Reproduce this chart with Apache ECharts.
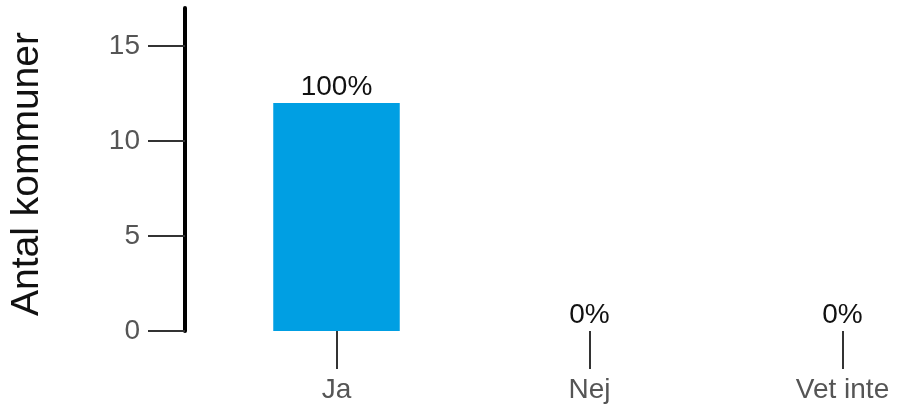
<!DOCTYPE html>
<html><head><meta charset="utf-8">
<script src="https://cdn.jsdelivr.net/npm/echarts@6/dist/echarts.min.js"></script>
<style>html,body{margin:0;padding:0;background:#fff;overflow:hidden;width:899px;height:407px}#c{width:969px;height:407px}</style>
</head><body><div id="c"></div>
<script>
const categories = ['Ja', 'Nej', 'Vet inte'];
const counts = [12, 0, 0];
const percentLabels = ['100%', '0%', '0%'];
const yTicks = [0, 5, 10, 15];
const yMax = 17;

const chart = echarts.init(document.getElementById('c'));
const F = 'Liberation Sans, Arial, sans-serif';
chart.setOption({
  animation: false,
  grid: { left: 210, right: 0, top: 8, bottom: 76 },
  xAxis: {
    type: 'category',
    data: categories,
    axisLine: { show: false },
    axisTick: { show: true, alignWithLabel: true, length: 38, lineStyle: { color: '#333', width: 2 } },
    axisLabel: { margin: 45, fontSize: 28, color: '#555', fontFamily: F },
    splitLine: { show: false }
  },
  yAxis: {
    type: 'value',
    min: 0, max: yMax,
    offset: 25,
    name: 'Antal kommuner',
    nameLocation: 'middle',
    nameGap: 138,
    nameTextStyle: { fontSize: 39, color: '#111', fontFamily: F, padding: [0, 9, 0, 0] },
    axisLine: { show: true, lineStyle: { color: '#000', width: 4 } },
    axisTick: { show: true, length: 37, customValues: yTicks, lineStyle: { color: '#333', width: 2 } },
    axisLabel: { margin: 45, fontSize: 28, color: '#555', fontFamily: F, customValues: yTicks },
    splitLine: { show: false }
  },
  series: [{
    type: 'bar',
    data: counts,
    barWidth: '50%',
    itemStyle: { color: '#009FE3' },
    label: {
      show: true, position: 'top', distance: 2,
      fontSize: 28, color: '#111', fontFamily: F,
      formatter: p => percentLabels[p.dataIndex]
    }
  }]
});
</script></body></html>
